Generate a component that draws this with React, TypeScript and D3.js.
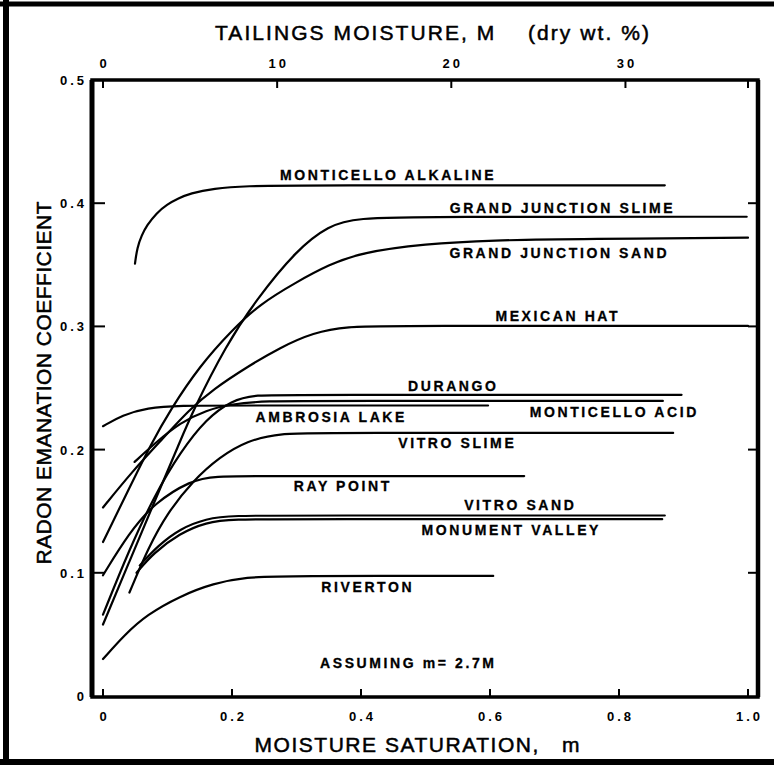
import React from 'react';
import * as d3 from 'd3';

type Pt = [number, number];

// ---- data: moisture saturation m (x) vs radon emanation coefficient (y) ----
const monticelloAlkaline: Pt[] = [[0.0496,0.351],[0.053,0.364],[0.06,0.374],[0.068,0.382],[0.083,0.392],[0.099,0.399],[0.117,0.404],[0.135,0.408],[0.171,0.412],[0.223,0.414],[0.3,0.4145],[0.871,0.4145]];
const grandJunctionSlime: Pt[] = [[0,0.058],[0.04,0.108],[0.08,0.158],[0.119,0.206],[0.14,0.232],[0.19,0.284],[0.238,0.322],[0.3,0.362],[0.35,0.382],[0.393,0.388],[0.5,0.389],[0.998,0.389]];
const grandJunctionSand: Pt[] = [[0,0.125],[0.04,0.168],[0.075,0.205],[0.104,0.232],[0.15,0.268],[0.2,0.297],[0.243,0.318],[0.3,0.336],[0.35,0.35],[0.4,0.36],[0.5,0.367],[0.6,0.370],[0.75,0.371],[1.0,0.372]];
const mexicanHat: Pt[] = [[0,0.153],[0.045,0.182],[0.091,0.208],[0.135,0.233],[0.171,0.249],[0.223,0.267],[0.275,0.283],[0.326,0.295],[0.378,0.3],[0.45,0.3005],[1.0,0.3005]];
const durango: Pt[] = [[0,0.066],[0.04,0.118],[0.08,0.163],[0.12,0.198],[0.16,0.225],[0.2,0.24],[0.235,0.2445],[0.3,0.2445],[0.897,0.2445]];
const ambrosiaLake: Pt[] = [[0,0.219],[0.03,0.228],[0.068,0.234],[0.12,0.2358],[0.2,0.2358],[0.597,0.2358]];
const monticelloAcid: Pt[] = [[0.049,0.19],[0.08,0.205],[0.12,0.222],[0.16,0.232],[0.2,0.237],[0.25,0.2395],[0.35,0.2395],[0.868,0.2395]];
const vitroSlime: Pt[] = [[0.041,0.084],[0.07,0.12],[0.099,0.148],[0.14,0.175],[0.181,0.194],[0.223,0.207],[0.274,0.2135],[0.35,0.2135],[0.884,0.2135]];
const rayPoint: Pt[] = [[0,0.098],[0.04,0.132],[0.08,0.157],[0.137,0.175],[0.171,0.1785],[0.25,0.1785],[0.653,0.1785]];
const vitroSand: Pt[] = [[0.057,0.106],[0.085,0.122],[0.12,0.136],[0.16,0.144],[0.2,0.1465],[0.3,0.1465],[0.871,0.1465]];
const monumentValley: Pt[] = [[0.052,0.1],[0.078,0.116],[0.119,0.132],[0.16,0.141],[0.2,0.1435],[0.3,0.1435],[0.867,0.1435]];
const riverton: Pt[] = [[0,0.03],[0.034,0.05],[0.068,0.066],[0.119,0.081],[0.171,0.0915],[0.223,0.0965],[0.28,0.0975],[0.605,0.0975]];

const allSeries: Pt[][] = [monticelloAlkaline, grandJunctionSlime, grandJunctionSand, mexicanHat, durango, ambrosiaLake, monticelloAcid, vitroSlime, rayPoint, vitroSand, monumentValley, riverton];

// curve labels (text, anchor in data units: m, coefficient)
const labelTexts = ['MONTICELLO ALKALINE','GRAND JUNCTION SLIME','GRAND JUNCTION SAND','MEXICAN HAT','DURANGO','MONTICELLO ACID','AMBROSIA LAKE','VITRO SLIME','RAY POINT','VITRO SAND','MONUMENT VALLEY','RIVERTON','ASSUMING m= 2.7M'];
const labelAnchors: Pt[] = [[0.440,0.4192],[0.7105,0.392],[0.7054,0.3559],[0.7031,0.304],[0.5411,0.2472],[0.7907,0.2261],[0.3519,0.222],[0.5473,0.2009],[0.3698,0.1668],[0.645,0.1506],[0.631,0.1303],[0.4085,0.0848],[0.4713,0.0227]];

const bottomTicks = [0, 0.2, 0.4, 0.6, 0.8, 1.0];
const bottomTickLabels = ['0', '0.2', '0.4', '0.6', '0.8', '1.0'];
const leftTicks = [0, 0.1, 0.2, 0.3, 0.4, 0.5];
const leftTickLabels = ['0', '0.1', '0.2', '0.3', '0.4', '0.5'];
const topTicks = [0, 10, 20, 30];
const topTickLabels = ['0', '10', '20', '30'];
const moistureRatio = 2.7; // m = 2.7 M / 100

const topTitle = 'TAILINGS MOISTURE, M\u00A0\u00A0\u00A0 (dry wt. %)';
const bottomTitle = 'MOISTURE SATURATION,\u00A0\u00A0 m';
const leftTitle = 'RADON EMANATION COEFFICIENT';

const W = 774, H = 765;
const FONT = '"Liberation Sans", Arial, Helvetica, sans-serif';

export default function App() {
  const x = d3.scaleLinear().domain([0, 1]).range([103, 748]);
  const y = d3.scaleLinear().domain([0, 0.5]).range([696, 80]);
  const xTop = d3.scaleLinear().domain([0, 100 / moistureRatio]).range([103, 748]);
  const line = d3.line<Pt>().x(d => x(d[0])).y(d => y(d[1])).curve(d3.curveBasis);

  const fl = x(0) - 11, fr = x(1) + 10, ft = y(0.5), fb = y(0) + 1;
  const tickLS = 3;
  const labLS = 2.6;
  const tickFS = 13;

  return (
    <svg width={W} height={H} viewBox={`0 0 ${W} ${H}`} style={{ position: 'absolute', left: 0, top: 0, background: '#fff' }}>
      <rect x={0} y={0} width={W} height={H} fill="#fff" />
      {/* outer border */}
      <line x1={6} y1={0} x2={6} y2={H} stroke="#000" strokeWidth={6} />
      <line x1={0} y1={4} x2={W} y2={4} stroke="#000" strokeWidth={5} />
      <line x1={0} y1={762} x2={W} y2={762} stroke="#000" strokeWidth={6} />

      {/* titles */}
      <g fontFamily={FONT} fontSize={21} stroke="#000" strokeWidth={0.5}>
        <text x={432} y={40} textAnchor="middle" textLength={434} lengthAdjust="spacing">{topTitle}</text>
        <text x={417} y={752} textAnchor="middle" textLength={325} lengthAdjust="spacing">{bottomTitle}</text>
        <text transform={`translate(51,383) rotate(-90)`} textAnchor="middle" textLength={363} lengthAdjust="spacing">{leftTitle}</text>
      </g>

      {/* frame */}
      <rect x={fl} y={ft} width={fr - fl} height={fb - ft} fill="none" stroke="#000" strokeWidth={3.5} />
      <line x1={fl} y1={ft} x2={fl} y2={fb} stroke="#000" strokeWidth={5} />
      <line x1={fr} y1={ft} x2={fr} y2={fb} stroke="#000" strokeWidth={4.5} />

      {/* bottom ticks */}
      {bottomTicks.map((t, i) => (
        <g key={'b' + i}>
          <line x1={x(t)} x2={x(t)} y1={fb} y2={fb - 8} stroke="#000" strokeWidth={2} />
          <text x={x(t) + tickLS / 2} y={721} textAnchor="middle" fontFamily={FONT} fontWeight="bold" fontSize={tickFS} letterSpacing={tickLS}>{bottomTickLabels[i]}</text>
        </g>
      ))}
      {/* top ticks */}
      {topTicks.map((t, i) => (
        <g key={'t' + i}>
          <line x1={xTop(t)} x2={xTop(t)} y1={ft} y2={ft + 8} stroke="#000" strokeWidth={2} />
          <text x={xTop(t) + tickLS / 2} y={68} textAnchor="middle" fontFamily={FONT} fontWeight="bold" fontSize={tickFS} letterSpacing={tickLS}>{topTickLabels[i]}</text>
        </g>
      ))}
      <line x1={x(1)} x2={x(1)} y1={ft} y2={ft + 8} stroke="#000" strokeWidth={2} />
      {/* left ticks */}
      {leftTicks.map((t, i) => (
        <g key={'l' + i}>
          {t > 0 && t < 0.5 && <line x1={fl} x2={fl + 13} y1={y(t)} y2={y(t)} stroke="#000" strokeWidth={2} />}
          {t > 0 && t < 0.5 && <line x1={fr} x2={fr - 10} y1={y(t)} y2={y(t)} stroke="#000" strokeWidth={2} />}
          <text x={84 + tickLS} y={y(t) + 5} textAnchor="end" fontFamily={FONT} fontWeight="bold" fontSize={tickFS} letterSpacing={tickLS}>{leftTickLabels[i]}</text>
        </g>
      ))}

      {/* curves */}
      {allSeries.map((s, i) => (
        <path key={'s' + i} d={line(s) || ''} fill="none" stroke="#000" strokeWidth={2.2} strokeLinecap="round" />
      ))}

      {/* labels */}
      {labelTexts.map((t, i) => (
        <text key={'lab' + i} x={x(labelAnchors[i][0]) + labLS / 2} y={y(labelAnchors[i][1])} textAnchor="middle" fontFamily={FONT} fontWeight="bold" fontSize={14} letterSpacing={labLS} stroke="#000" strokeWidth={0.3}>{t}</text>
      ))}
    </svg>
  );
}
